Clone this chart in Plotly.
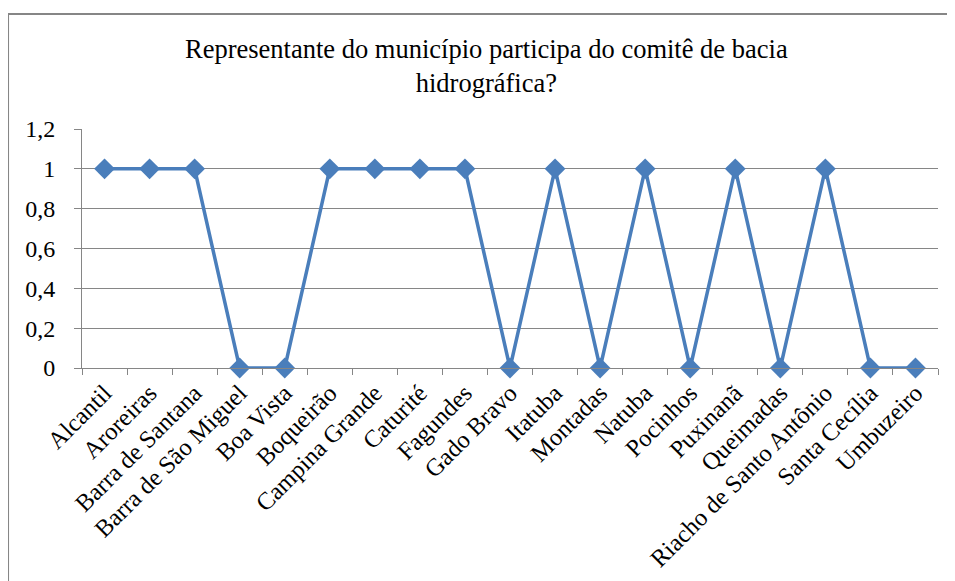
import plotly.graph_objects as go

# Dados
municipios = [
    "Alcantil", "Aroreiras", "Barra de Santana", "Barra de São Miguel",
    "Boa Vista", "Boqueirão", "Campina Grande", "Caturité", "Fagundes",
    "Gado Bravo", "Itatuba", "Montadas", "Natuba", "Pocinhos", "Puxinanã",
    "Queimadas", "Riacho de Santo Antônio", "Santa Cecília", "Umbuzeiro",
]
participa = [1, 1, 1, 0, 0, 1, 1, 1, 1, 0, 1, 0, 1, 0, 1, 0, 1, 0, 0]

titulo = "Representante do município participa do comitê de bacia<br>hidrográfica?"

AZUL = "#4a7ebb"
CINZA = "#868686"
FONTE = "Liberation Serif"

fig = go.Figure(go.Scatter(
    x=municipios,
    y=participa,
    mode="lines+markers",
    line=dict(color=AZUL, width=3.5),
    marker=dict(symbol="diamond", size=16, color=AZUL),
    cliponaxis=False,
))

# la page a une marge de 8px : figure un peu plus petite que la fenêtre
fig.update_layout(
    width=947,
    height=573,
    margin=dict(l=74, r=17, t=121, b=213),
    paper_bgcolor="white",
    plot_bgcolor="white",
    separators=",.",
    showlegend=False,
    font=dict(family=FONTE, color="black"),
    annotations=[dict(
        text=titulo, xref="paper", yref="paper", x=0.473, y=1.262,
        xanchor="center", yanchor="middle", showarrow=False,
        font=dict(family=FONTE, size=26.5, color="black"),
    )],
    shapes=[dict(
        type="rect", xref="paper", yref="paper",
        x0=-0.0864, x1=1.014, y0=-1.0, y1=1.481,
        line=dict(color=CINZA, width=2),
    )],
)

fig.update_xaxes(
    automargin=False,
    range=[-0.5, len(municipios) - 0.5],
    tickangle=-45,
    tickfont=dict(family=FONTE, size=24.5, color="black"),
    showline=True, linecolor=CINZA, linewidth=1,
    ticks="outside", tickson="boundaries", ticklen=6, tickcolor=CINZA,
    showgrid=False,
)
fig.update_yaxes(
    automargin=False,
    range=[0, 1.2], dtick=0.2,
    tickfont=dict(family=FONTE, size=24, color="black"),
    showline=True, linecolor=CINZA, linewidth=1,
    ticks="outside", ticklen=7, tickcolor=CINZA, ticklabelstandoff=14,
    showgrid=True, gridcolor=CINZA, gridwidth=1,
    zeroline=False,
)

fig.write_html("out.html")
